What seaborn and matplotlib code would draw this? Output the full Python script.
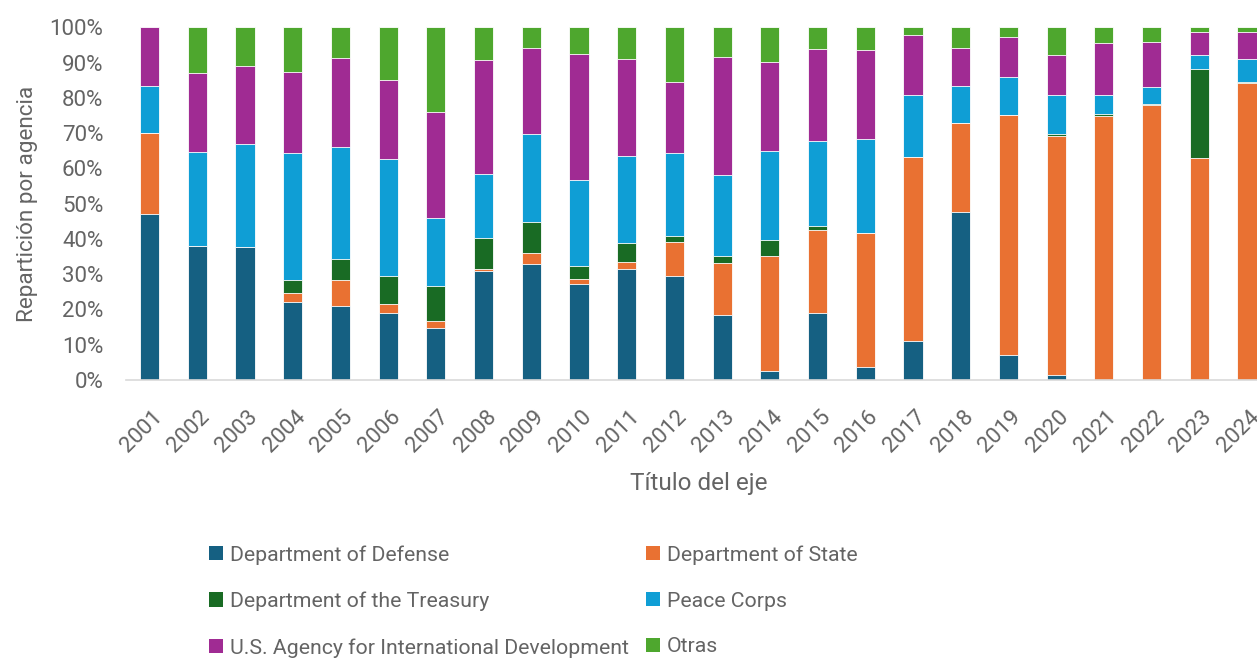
import pandas as pd
import matplotlib.pyplot as plt
import seaborn as sns
from matplotlib.patches import Patch
from matplotlib.transforms import ScaledTranslation

# Share of funding by agency (percent)
years = [str(y) for y in range(2001, 2025)]
defense = [47.0, 38.1, 37.8, 22.2, 21.0, 19.1, 14.8, 31.0, 33.0, 27.3, 31.4, 29.6,
           18.5, 2.5, 19.1, 3.8, 11.2, 47.7, 7.2, 1.5, 0.0, 0.0, 0.0, 0.0]
state = [23.1, 0.0, 0.0, 2.4, 7.4, 2.4, 1.9, 0.5, 3.0, 1.3, 2.1, 9.5,
         14.8, 32.8, 23.4, 37.8, 51.9, 25.2, 67.8, 67.8, 74.9, 78.0, 62.9, 84.1]
treasury = [0.0, 0.0, 0.0, 3.9, 5.8, 8.1, 10.0, 8.9, 8.9, 3.8, 5.4, 1.8,
            2.0, 4.3, 1.3, 0.0, 0.0, 0.0, 0.0, 0.5, 0.6, 0.4, 25.4, 0.5]
peace_corps = [13.3, 26.5, 29.1, 36.0, 31.9, 33.0, 19.2, 17.9, 24.9, 24.2, 24.5, 23.5,
               22.7, 25.2, 24.0, 26.6, 17.8, 10.4, 10.8, 11.0, 5.2, 4.8, 3.9, 6.4]
usaid = [16.6, 22.4, 22.2, 22.7, 25.1, 22.5, 30.2, 32.5, 24.3, 35.7, 27.7, 20.0,
         33.7, 25.3, 26.0, 25.5, 16.8, 10.8, 11.4, 11.4, 14.8, 12.5, 6.5, 7.7]
otras = [0.0, 13.0, 10.9, 12.8, 8.8, 14.9, 23.9, 9.2, 5.9, 7.7, 8.9, 15.6,
         8.3, 9.9, 6.2, 6.3, 2.3, 5.9, 2.8, 7.8, 4.5, 4.3, 1.3, 1.3]

labels = ["Department of Defense", "Department of State", "Department of the Treasury",
          "Peace Corps", "U.S. Agency for International Development", "Otras"]
colors = ["#156082", "#E97132", "#196B24", "#0F9ED5", "#A02B93", "#4EA72E"]

df = pd.DataFrame({"year": years, labels[0]: defense, labels[1]: state,
                   labels[2]: treasury, labels[3]: peace_corps,
                   labels[4]: usaid, labels[5]: otras})

sns.set_style("white")
plt.rcParams["font.family"] = ["Roboto", "DejaVu Sans"]
text_color = "#646464"

fig = plt.figure(figsize=(12.57, 6.6), dpi=100)
ax = fig.add_axes([0.100, 0.4242, 0.911, 0.5344])

# stacked bars: draw cumulative totals from the top layer down
cum = df[labels].cumsum(axis=1)
for name, col in reversed(list(zip(labels, colors))):
    sns.barplot(x=df["year"], y=cum[name], color=col, saturation=1, width=0.4,
                errorbar=None, edgecolor="white", linewidth=0.6, ax=ax)

ax.set_ylim(0, 100)
ax.set_yticks(range(0, 101, 10))
ax.set_yticklabels([f"{v}%" for v in range(0, 101, 10)])
ax.tick_params(axis="both", length=0, colors=text_color, labelsize=16)
ax.tick_params(axis="y", pad=16)
ax.tick_params(axis="x", pad=19)
shift = ScaledTranslation(2 / 100, 0, fig.dpi_scale_trans)
for lab in ax.get_xticklabels():
    lab.set_rotation(45)
    lab.set_ha("right")
    lab.set_rotation_mode("anchor")
    lab.set_transform(lab.get_transform() + shift)

for s in ["top", "right", "left"]:
    ax.spines[s].set_visible(False)
ax.spines["bottom"].set_color("#D9D9D9")
ax.spines["bottom"].set_linewidth(1.2)

ax.set_xlabel("Título del eje", fontsize=17.5, color=text_color, labelpad=11)
ax.set_ylabel("Repartición por agencia", fontsize=16.2, color=text_color,
              labelpad=8)

handles = [Patch(facecolor=c, edgecolor="none") for c in colors]
col1 = [0, 2, 4]
col2 = [1, 3, 5]
leg_kw = dict(loc="upper left", frameon=False, handlelength=0.65,
              handleheight=0.65, handletextpad=0.35, labelspacing=1.27,
              borderaxespad=0, borderpad=0, labelcolor=text_color,
              prop={"size": 15.3})
fig.legend([handles[i] for i in col1], [labels[i] for i in col1],
           bbox_to_anchor=(209 / 1257, 1 - 545 / 660), **leg_kw)
fig.legend([handles[i] for i in col2], [labels[i] for i in col2],
           bbox_to_anchor=(646 / 1257, 1 - 545 / 660), **leg_kw)

fig.savefig("out.png", dpi=100)
